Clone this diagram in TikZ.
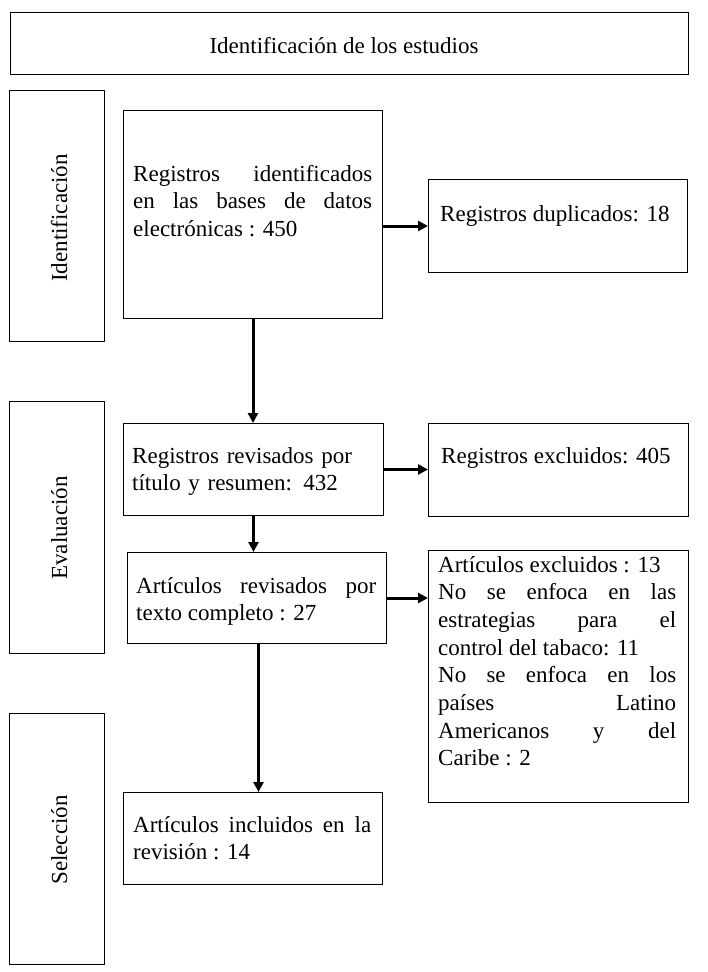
\documentclass[tikz,border=0pt]{standalone}
\usepackage{fontspec}
\setmainfont{Liberation Serif}
\usetikzlibrary{arrows.meta}
\tolerance=10000\relax
\hyphenpenalty=10000\relax
\setlength{\parindent}{0pt}
\setlength{\parskip}{0pt}
\newcommand{\bigtxt}{\fontsize{23}{27.7}\selectfont}
\begin{document}
\begin{tikzpicture}[x=1pt,y=-1pt,
  boxx/.style={draw=black, line width=1pt, inner sep=0pt, anchor=north west},
  txt/.style={inner sep=0pt, anchor=base west, font=\bigtxt},
  jtxt/.style={txt, align=justify, text width=#1},
  side/.style={inner sep=0pt, anchor=base, rotate=90, font=\bigtxt},
  flow/.style={line width=3pt, -{Triangle[length=10pt,width=10pt]}}
]
\useasboundingbox (0,0) rectangle (708,972);
% boxes
\node[boxx, minimum width=678pt, minimum height=62pt] (top) at (10,12) {};
\node[boxx, minimum width=95pt, minimum height=251pt] (idl) at (9,90) {};
\node[boxx, minimum width=95pt, minimum height=252pt] (evl) at (9,401) {};
\node[boxx, minimum width=95pt, minimum height=251pt] (sel) at (9,713) {};
\node[boxx, minimum width=259pt, minimum height=208pt] (b1) at (123,110) {};
\node[boxx, minimum width=260pt, minimum height=92pt] (b2) at (123,423) {};
\node[boxx, minimum width=259pt, minimum height=91pt] (b3) at (127,552) {};
\node[boxx, minimum width=259pt, minimum height=92pt] (b4) at (123,792) {};
\node[boxx, minimum width=259pt, minimum height=93pt] (dup) at (428,179) {};
\node[boxx, minimum width=260pt, minimum height=93pt] (exc) at (428,423) {};
\node[boxx, minimum width=260pt, minimum height=252pt] (ae) at (428,550) {};
% texts
\node[txt, anchor=base] (t0) at (344,53) {Identificación de los estudios};
\node[side] (l1) at (67,218) {Identificación};
\node[side] (l2) at (67,528) {Evaluación};
\node[side] (l3) at (67,840) {Selección};
\node[jtxt=239pt] (t1) at (133,181) {Registros identificados\linebreak en las bases de datos\linebreak electrónicas : 450};
\node[txt, text width=250pt, align=left] (t2) at (132,463) {Registros revisados por\\título y resumen: 432};
\node[jtxt=240pt] (t3) at (136,593) {Artículos revisados por\linebreak texto completo : 27};
\node[jtxt=238pt] (t4) at (133,832) {Artículos incluidos en la\linebreak revisión : 14};
\node[txt] (t5) at (440,221) {Registros duplicados: 18};
\node[txt] (t6) at (441,463) {Registros excluidos: 405};
\node[jtxt=238pt] (t7) at (438,572) {Artículos excluidos : 13\par No se enfoca en las\linebreak estrategias para el\linebreak control del tabaco: 11\par No se enfoca en los\linebreak países Latino\linebreak Americanos y del\linebreak Caribe : 2};
% connectors
\draw[flow] (b1.east |- dup.west) -- (dup.west);
\draw[flow] (b1.south) -- (b1.south |- b2.north);
\draw[flow] (b2.east) -- (b2.east -| exc.west);
\draw[flow] (b2.south) -- (b2.south |- b3.north);
\draw[flow] (b3.east) -- (b3.east -| ae.west);
\draw[flow] ([xshift=1.5pt]b3.south) -- ([xshift=1.5pt]b3.south |- b4.north);
\end{tikzpicture}
\end{document}
